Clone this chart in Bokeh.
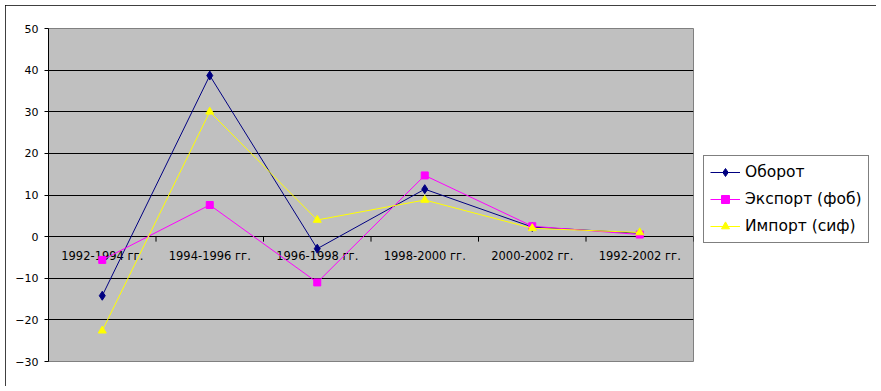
from bokeh.plotting import figure
from bokeh.models import (FactorRange, Range1d, SingleIntervalTicker, FixedTicker,
                          Legend, LegendItem)
from bokeh.core.properties import value
from bokeh.embed import file_html
from bokeh.resources import INLINE

categories = ["1992-1994 гг.", "1994-1996 гг.", "1996-1998 гг.",
              "1998-2000 гг.", "2000-2002 гг.", "1992-2002 гг."]
oborot = [-14.2, 38.7, -2.9, 11.4, 2.3, 0.8]
eksport = [-5.6, 7.6, -11.0, 14.7, 2.5, 0.5]
import_ = [-22.6, 30.0, 4.0, 8.8, 2.0, 1.0]
series_names = ["Оборот", "Экспорт (фоб)", "Импорт (сиф)"]
y_ticks = [-30, -20, -10, 0, 10, 20, 30, 40, 50]

FONT = "DejaVu Sans"

p = figure(frame_width=645, frame_height=333, output_backend="svg", toolbar_location=None,
           x_range=FactorRange(*categories, range_padding=0, factor_padding=0),
           y_range=Range1d(y_ticks[0], y_ticks[-1]),
           min_border_left=43, min_border_right=183, min_border_top=23, min_border_bottom=25)
p.margin = (5, 0, 0, 5)
p.styles = {"outline": "1px solid black", "outline-offset": "-1px",
            "width": "871px", "height": "381px", "box-sizing": "border-box"}
p.background_fill_color = "#C0C0C0"
p.border_fill_color = "white"
p.outline_line_color = "#808080"

p.xaxis.visible = False
p.xgrid.visible = False
p.ygrid.ticker = FixedTicker(ticks=y_ticks[1:-1])
p.ygrid.grid_line_color = "black"
p.ygrid.grid_line_width = 1

ya = p.yaxis[0]
ya.ticker = SingleIntervalTicker(interval=10)
ya.axis_line_color = "black"
ya.major_tick_line_color = "black"
ya.major_tick_out = 4
ya.major_tick_in = 0
ya.minor_tick_line_color = None
ya.major_label_text_font = FONT
ya.major_label_text_font_size = "11px"
ya.major_label_text_color = "black"
ya.major_label_standoff = 6

# category tick marks at boundaries on the zero line
n = len(categories)
bounds = list(range(0, n + 1))
p.segment(x0=bounds, x1=bounds, y0=[0] * (n + 1), y1=[-1.2] * (n + 1),
          line_color="black", line_width=1)

# category labels below the zero line
p.text(x=categories, y=[0] * n, text=categories, y_offset=12,
       text_align="center", text_baseline="top",
       text_font=value(FONT), text_font_size="11.5px", text_color="black")

r1l = p.line(categories, oborot, line_color="#000080", line_width=1)
r1m = p.scatter(categories, oborot, marker="diamond", size=9,
                fill_color="#000080", line_color="#000080")
r2l = p.line(categories, eksport, line_color="#FF00FF", line_width=1)
r2m = p.scatter(categories, eksport, marker="square", size=7,
                fill_color="#FF00FF", line_color="#FF00FF")
r3l = p.line(categories, import_, line_color="#FFFF00", line_width=1)
r3m = p.scatter(categories, import_, marker="triangle", size=8,
                fill_color="#FFFF00", line_color="#FFFF00")

legend = Legend(items=[
    LegendItem(label=series_names[0], renderers=[r1l, r1m]),
    LegendItem(label=series_names[1], renderers=[r2l, r2m]),
    LegendItem(label=series_names[2], renderers=[r3l, r3m]),
], location=(10, 118))
legend.margin = 0
legend.padding = 6
legend.spacing = 7
legend.glyph_width = 30
legend.glyph_height = 20
legend.label_height = 20
legend.label_standoff = 5
legend.label_text_font = FONT
legend.label_text_font_size = "15.5px"
legend.label_text_color = "black"
legend.border_line_color = "black"
legend.border_line_width = 1
legend.background_fill_color = "white"
p.add_layout(legend, "right")

open("out.html", "w").write(file_html(p, INLINE))
